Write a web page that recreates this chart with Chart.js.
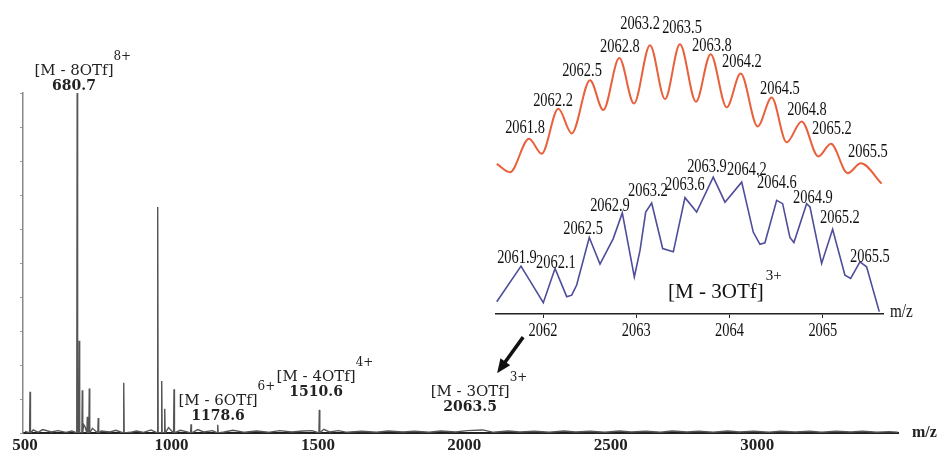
<!DOCTYPE html>
<html>
<head>
<meta charset="utf-8">
<script src="https://cdn.jsdelivr.net/npm/chart.js@4.4.1/dist/chart.umd.min.js"></script>
<style>
  html, body { margin: 0; padding: 0; background: #fff; }
  #wrap { position: relative; width: 945px; height: 456px; }
  #wrap canvas { position: absolute; left: 0; top: 0; }
</style>
</head>
<body>
<div id="wrap">
  <canvas id="mainChart" width="945" height="456"></canvas>
  <canvas id="insetChart" width="945" height="456"></canvas>
</div>
<script>
// main spectrum
const xTicks = [500, 1000, 1500, 2000, 2500, 3000];
const peakMz = [517, 678, 685, 695.5, 712.6, 719.4, 750, 837, 953, 966.7, 977, 1008.7, 1066.8, 1158, 1505];
const peakInt = [12.1, 100, 27.1, 12.6, 4.8, 13.1, 4.4, 14.8, 66.5, 15.3, 7.1, 12.9, 2.6, 2.4, 6.8];
const noiseMz = [500, 528, 545, 560, 590, 612, 640, 660, 700, 705, 730, 760, 790, 810, 860, 880, 905, 930, 990, 1030,
  1050, 1090, 1110, 1140, 1180, 1210, 1250, 1290, 1330, 1370, 1410, 1450, 1480, 1520, 1540, 1570, 1600, 1650, 1700, 1740,
  1790, 1830, 1880, 1920, 1970, 2010, 2063, 2100, 2150, 2190, 2240, 2290, 2340, 2380, 2430, 2480, 2530, 2570, 2620, 2670,
  2710, 2760, 2800, 2850, 2900, 2940, 2990, 3040, 3080, 3130, 3180, 3220, 3270, 3320, 3360, 3410, 3450, 3480];
const noiseInt = [0.5, 0.9, 0.2, 1.0, 0.3, 0.7, 0.2, 0.6, 2.5, 1.8, 1.4, 0.6, 0.3, 0.8, 0.2, 0.6, 0.2, 0.9, 1.6, 0.8,
  0.4, 1.0, 0.3, 0.7, 0.3, 0.8, 0.2, 0.6, 0.2, 0.7, 0.3, 0.6, 0.7, 1.1, 0.3, 0.7, 0.2, 0.5, 0.2, 0.6,
  0.3, 0.5, 0.2, 0.6, 0.3, 0.7, 0.9, 0.2, 0.6, 0.3, 0.5, 0.2, 0.6, 0.3, 0.5, 0.2, 0.6, 0.3, 0.5, 0.2,
  0.6, 0.3, 0.5, 0.2, 0.6, 0.3, 0.5, 0.2, 0.5, 0.3, 0.5, 0.2, 0.5, 0.3, 0.5, 0.2, 0.4, 0.2];

const annotText = ['[M - 8OTf]', '[M - 6OTf]', '[M - 4OTf]', '[M - 3OTf]'];
const annotCharge = ['8+', '6+', '4+', '3+'];
const annotValue = ['680.7', '1178.6', '1510.6', '2063.5'];
const annotMz = [667, 1159, 1494, 2020];
const annotHeight = [106.5, 9.4, 16.5, 12.1];
const arrowMz = [2201, 2112];
const arrowY = [28.2, 17.6];

// inset: isotope pattern around 2063.5
const insetTicks = [2062, 2063, 2064, 2065];
const redMz = [2061.504, 2061.646, 2061.850, 2061.986, 2062.164, 2062.308, 2062.504, 2062.646, 2062.818, 2062.975,
  2063.147, 2063.308, 2063.468, 2063.640, 2063.797, 2063.969, 2064.119, 2064.301, 2064.451, 2064.612,
  2064.773, 2064.951, 2065.087, 2065.266, 2065.408, 2065.630];
const redInt = [50.2, 47.4, 58.6, 53.6, 68.6, 60.4, 78.2, 68.2, 85.6, 70.4,
  89.9, 71.9, 90.2, 71.0, 86.9, 69.1, 80.4, 62.7, 72.4, 57.4,
  64.4, 52.7, 56.9, 47.1, 50.4, 43.6];
const blueMz = [2061.504, 2061.764, 2062.003, 2062.129, 2062.254, 2062.308, 2062.361, 2062.496, 2062.611, 2062.753,
  2062.850, 2062.979, 2063.040, 2063.101, 2063.165, 2063.283, 2063.397, 2063.522, 2063.647, 2063.825,
  2063.951, 2064.130, 2064.254, 2064.326, 2064.379, 2064.505, 2064.569, 2064.647, 2064.690, 2064.826,
  2064.862, 2064.987, 2065.105, 2065.237, 2065.298, 2065.398, 2065.469, 2065.605];
const blueInt = [4.1, 16.0, 3.8, 15.2, 5.8, 6.3, 9.7, 25.6, 16.7, 25.2,
  33.8, 12.4, 21.3, 34.1, 37.1, 21.9, 20.8, 38.9, 34.1, 45.8,
  37.4, 44.1, 27.4, 23.3, 23.8, 38.0, 36.9, 25.6, 23.9, 36.9,
  35.8, 16.9, 28.3, 13.0, 11.9, 17.4, 15.8, 0.8];

const redLabels = ['2061.8', '2062.2', '2062.5', '2062.8', '2063.2', '2063.5', '2063.8', '2064.2', '2064.5', '2064.8', '2065.2', '2065.5'];
const redLabelMz = [2061.807, 2062.107, 2062.418, 2062.825, 2063.040, 2063.490, 2063.811, 2064.133, 2064.540, 2064.830, 2065.097, 2065.483];
const redLabelY = [62.3, 71.3, 81.3, 89.3, 97.0, 95.7, 89.7, 84.3, 75.3, 68.3, 61.7, 54.0];
const blueLabels = ['2061.9', '2062.1', '2062.5', '2062.9', '2063.2', '2063.6', '2063.9', '2064.2', '2064.6', '2064.9', '2065.2', '2065.5'];
const blueLabelMz = [2061.721, 2062.139, 2062.429, 2062.718, 2063.125, 2063.522, 2063.758, 2064.186, 2064.508, 2064.894, 2065.183, 2065.505];
const blueLabelY = [18.7, 17.0, 28.3, 36.0, 41.0, 43.0, 49.3, 48.0, 43.7, 38.7, 32.0, 19.0];
const insetIonMz = 2063.854;
const insetIonY = 7.3;

// each peak becomes a thin stick on the baseline, noise is a jagged line
function sticks(mzs, ints, half) {
  const pts = [];
  mzs.forEach((m, i) => {
    pts.push({ x: m - half, y: 0 }, { x: m, y: ints[i] }, { x: m + half, y: 0 });
  });
  return pts;
}
const spectrum = sticks(peakMz, peakInt, 1.5)
  .concat(noiseMz.map((m, i) => ({ x: m, y: noiseInt[i] })))
  .sort((a, b) => a.x - b.x);

function narrowText(ctx, text, x, y, sx) {
  ctx.save();
  ctx.translate(x, y);
  ctx.scale(sx, 1);
  ctx.fillText(text, 0, 0);
  ctx.restore();
}

const mainLabels = {
  id: 'mainLabels',
  afterDraw(chart) {
    const { ctx, scales: { x, y } } = chart;
    ctx.save();
    ctx.fillStyle = '#222';
    ctx.textBaseline = 'middle';
    annotText.forEach((t, i) => {
      const px = x.getPixelForValue(annotMz[i]);
      const py = y.getPixelForValue(annotHeight[i]);
      ctx.font = '15px "DejaVu Serif"';
      ctx.textAlign = 'center';
      ctx.fillText(t, px, py);
      const w = ctx.measureText(t).width;
      ctx.font = '12px "DejaVu Serif"';
      ctx.textAlign = 'left';
      ctx.fillText(annotCharge[i], px + w / 2, py - 14);
      ctx.font = 'bold 14px "DejaVu Serif"';
      ctx.textAlign = 'center';
      ctx.fillText(annotValue[i], px, py + 15);
    });

    // arrow from the inset down to the 3+ ion
    const x0 = x.getPixelForValue(arrowMz[0]), y0 = y.getPixelForValue(arrowY[0]);
    const x1 = x.getPixelForValue(arrowMz[1]), y1 = y.getPixelForValue(arrowY[1]);
    const ang = Math.atan2(y1 - y0, x1 - x0);
    const c = Math.cos(ang), s = Math.sin(ang);
    ctx.strokeStyle = '#111';
    ctx.fillStyle = '#111';
    ctx.lineWidth = 3.5;
    ctx.beginPath();
    ctx.moveTo(x0, y0);
    ctx.lineTo(x1 - 10 * c, y1 - 10 * s);
    ctx.stroke();
    ctx.beginPath();
    ctx.moveTo(x1, y1);
    ctx.lineTo(x1 - 14 * c - 6 * s, y1 - 14 * s + 6 * c);
    ctx.lineTo(x1 - 14 * c + 6 * s, y1 - 14 * s - 6 * c);
    ctx.closePath();
    ctx.fill();

    ctx.fillStyle = '#222';
    ctx.font = 'bold 16px "Liberation Serif"';
    ctx.textAlign = 'left';
    ctx.fillText('m/z', x.right + 14, x.top);
    ctx.restore();
  }
};

const insetLabels = {
  id: 'insetLabels',
  afterDraw(chart) {
    const { ctx, scales: { x, y } } = chart;
    ctx.save();
    ctx.fillStyle = '#111';
    ctx.textAlign = 'center';
    ctx.textBaseline = 'middle';
    ctx.font = '19px "Liberation Serif"';
    redLabels.forEach((t, i) => {
      narrowText(ctx, t, x.getPixelForValue(redLabelMz[i]), y.getPixelForValue(redLabelY[i]), 0.76);
    });
    blueLabels.forEach((t, i) => {
      narrowText(ctx, t, x.getPixelForValue(blueLabelMz[i]), y.getPixelForValue(blueLabelY[i]), 0.76);
    });
    insetTicks.forEach(v => {
      narrowText(ctx, String(v), x.getPixelForValue(v), x.top + 17, 0.76);
    });
    ctx.textAlign = 'left';
    narrowText(ctx, 'm/z', x.right + 7, x.top - 2, 0.8);

    const px = x.getPixelForValue(insetIonMz);
    const py = y.getPixelForValue(insetIonY);
    ctx.font = '21px "Liberation Serif"';
    ctx.textAlign = 'center';
    ctx.fillText('[M - 3OTf]', px, py);
    const w = ctx.measureText('[M - 3OTf]').width;
    ctx.font = '15px "Liberation Serif"';
    ctx.textAlign = 'left';
    ctx.fillText('3+', px + w / 2 + 2, py - 16);
    ctx.restore();
  }
};

new Chart(document.getElementById('mainChart'), {
  type: 'line',
  data: {
    datasets: [{
      data: spectrum,
      borderColor: '#555',
      borderWidth: 1.4,
      pointRadius: 0,
      tension: 0
    }]
  },
  options: {
    responsive: false,
    animation: false,
    layout: { padding: { left: 0, right: 47, top: 93, bottom: 0 } },
    plugins: { legend: { display: false }, tooltip: { enabled: false } },
    scales: {
      x: {
        type: 'linear',
        min: 493,
        max: 3481,
        afterBuildTicks: (s) => { s.ticks = xTicks.map(v => ({ value: v })); },
        afterFit: (s) => { s.height = 23; },
        grid: { display: false, drawTicks: false },
        border: { display: true, color: '#222', width: 2 },
        ticks: {
          color: '#222',
          padding: 2,
          maxRotation: 0,
          autoSkip: false,
          callback: (v) => String(v),
          font: { family: '"Liberation Serif"', size: 17, weight: 'bold' }
        }
      },
      y: {
        min: 0,
        max: 100,
        afterFit: (s) => { s.width = 23; },
        grid: { drawOnChartArea: false, tickLength: 3, color: '#999' },
        border: { color: '#888', width: 1.5 },
        ticks: { display: false, stepSize: 10 }
      }
    }
  },
  plugins: [mainLabels]
});

new Chart(document.getElementById('insetChart'), {
  type: 'line',
  data: {
    datasets: [
      {
        data: redMz.map((m, i) => ({ x: m, y: redInt[i] })),
        borderColor: '#e8603c',
        borderWidth: 2,
        pointRadius: 0,
        cubicInterpolationMode: 'monotone'
      },
      {
        data: blueMz.map((m, i) => ({ x: m, y: blueInt[i] })),
        borderColor: '#4d4d99',
        borderWidth: 1.6,
        pointRadius: 0,
        tension: 0
      }
    ]
  },
  options: {
    responsive: false,
    animation: false,
    layout: { padding: { left: 496, right: 62, top: 0, bottom: 132 } },
    plugins: { legend: { display: false }, tooltip: { enabled: false } },
    scales: {
      x: {
        type: 'linear',
        min: 2061.496,
        max: 2065.645,
        afterBuildTicks: (s) => { s.ticks = insetTicks.map(v => ({ value: v })); },
        afterFit: (s) => { s.height = 10; },
        grid: { drawOnChartArea: false, tickLength: 4, color: '#222' },
        border: { color: '#222', width: 1.5 },
        ticks: { display: false }
      },
      y: { display: false, min: 0, max: 105 }
    }
  },
  plugins: [insetLabels]
});
</script>
</body>
</html>
